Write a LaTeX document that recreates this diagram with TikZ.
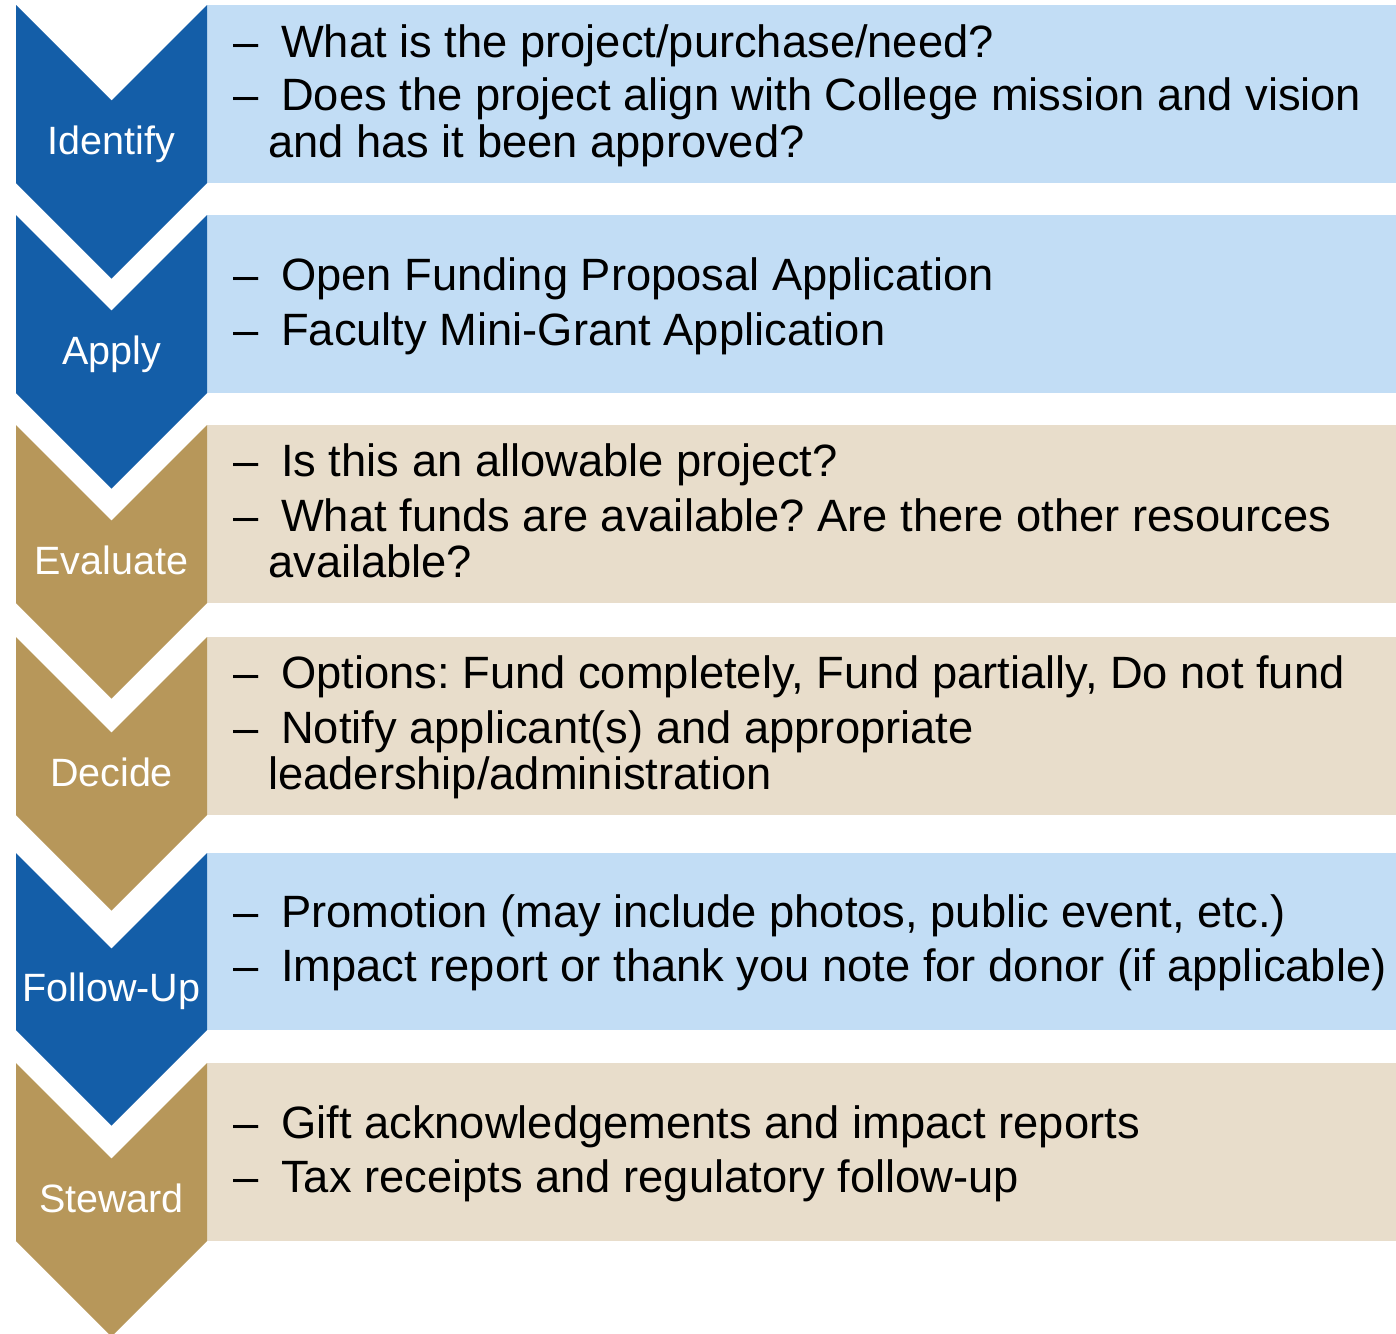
\documentclass[tikz,border=0pt]{standalone}
\usepackage{fontspec}
\setmainfont{Liberation Sans}
\definecolor{dblue}{RGB}{20,94,168}
\definecolor{lblue}{RGB}{194,221,245}
\definecolor{goldc}{RGB}{183,151,90}
\definecolor{beigec}{RGB}{232,221,203}
\newcommand\chevstep[4]{%
  \fill[#4] (207,#1) rectangle (1396,#2);
  \fill[#3] (16,#1) -- (111.5,#1+95.5) -- (207,#1) -- (207,#2) -- (111.5,#2+95.5) -- (16,#2) -- cycle;
}
\frenchspacing
\begin{document}
\begin{tikzpicture}[x=1pt,y=-1pt,
  bodytext/.style={anchor=base west,inner sep=0pt,font=\fontsize{45.3}{47}\selectfont,text=black},
  steplabel/.style={anchor=base,inner sep=0pt,font=\fontsize{39.5}{41}\selectfont,text=white}]
\useasboundingbox (0,0) rectangle (1396,1333);
\chevstep{5}{183}{dblue}{lblue}
\chevstep{215}{393}{dblue}{lblue}
\chevstep{425}{603}{goldc}{beigec}
\chevstep{637}{815}{goldc}{beigec}
\chevstep{853}{1030}{dblue}{lblue}
\chevstep{1063}{1241}{goldc}{beigec}
% labels
\node[steplabel] (l1) at (111.5,154) {Identify};
\node[steplabel] (l2) at (111.5,364) {Apply};
\node[steplabel] (l3) at (111.5,574) {Evaluate};
\node[steplabel] (l4) at (111.5,786) {Decide};
\node[steplabel] (l5) at (111.5,1001) {Follow-Up};
\node[steplabel] (l6) at (111.5,1212) {Steward};
% dashes
\foreach \yy/\nm in {57/d1,110/d2,290/d3,345/d4,476/d5,531/d6,688/d7,743/d8,927/d9,981/d10,1138/d11,1192/d12}
  \node[bodytext] (\nm) at (233,\yy) {–};
% texts
\node[bodytext] (t1) at (281,57) {What is the project/purchase/need?};
\node[bodytext] (t2) at (281,110) {Does the project align with College mission and vision};
\node[bodytext] (t2b) at (268,157) {and has it been approved?};
\node[bodytext] (t3) at (281,290) {Open Funding Proposal Application};
\node[bodytext] (t4) at (281,345) {Faculty Mini-Grant Application};
\node[bodytext] (t5) at (281,476) {Is this an allowable project?};
\node[bodytext] (t6) at (281,531) {What funds are available? Are there other resources};
\node[bodytext] (t6b) at (268,577) {available?};
\node[bodytext] (t7) at (281,688) {Options: Fund completely, Fund partially, Do not fund};
\node[bodytext] (t8) at (281,743) {Notify applicant(s) and appropriate};
\node[bodytext] (t8b) at (268,789) {leadership/administration};
\node[bodytext] (t9) at (281,927) {Promotion (may include photos, public event, etc.)};
\node[bodytext] (t10) at (281,981) {Impact report or thank you note for donor (if applicable)};
\node[bodytext] (t11) at (281,1138) {Gift acknowledgements and impact reports};
\node[bodytext] (t12) at (281,1192) {Tax receipts and regulatory follow-up};
\end{tikzpicture}
\end{document}
